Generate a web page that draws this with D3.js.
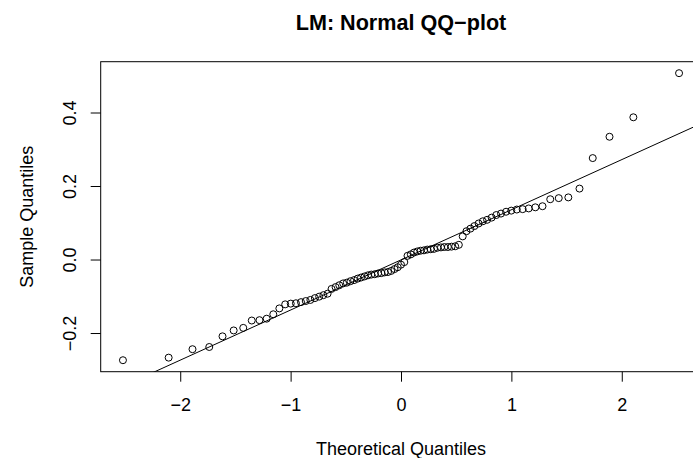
<!DOCTYPE html>
<html>
<head>
<meta charset="utf-8">
<script src="https://cdn.jsdelivr.net/npm/d3@7"></script>
<style>
  body { margin: 0; background: #fff; }
  svg text { font-family: "Liberation Sans", Arial, Helvetica, sans-serif; fill: #000; }
</style>
</head>
<body>
<svg id="chart"></svg>
<script>
// theoretical normal quantiles (x) and sorted sample residuals (y), n = 85
var theoQ = [
  -2.519, -2.105, -1.889, -1.737, -1.617, -1.516, -1.429, -1.352, -1.282, -1.217,
  -1.157, -1.102, -1.049, -0.999, -0.952, -0.906, -0.863, -0.821, -0.780, -0.741,
  -0.703, -0.665, -0.629, -0.593, -0.559, -0.524, -0.491, -0.458, -0.425, -0.393,
  -0.362, -0.330, -0.299, -0.269, -0.238, -0.208, -0.178, -0.148, -0.118, -0.089,
  -0.059, -0.030, 0.000, 0.030, 0.059, 0.089, 0.118, 0.148, 0.178, 0.208,
  0.238, 0.269, 0.299, 0.330, 0.362, 0.393, 0.425, 0.458, 0.491, 0.524,
  0.559, 0.593, 0.629, 0.665, 0.703, 0.741, 0.780, 0.821, 0.863, 0.906,
  0.952, 0.999, 1.049, 1.102, 1.157, 1.217, 1.282, 1.352, 1.429, 1.516,
  1.617, 1.737, 1.889, 2.105, 2.519
];
var sampleQ = [
  -0.274, -0.267, -0.244, -0.238, -0.209, -0.193, -0.186, -0.166, -0.165, -0.161,
  -0.149, -0.133, -0.122, -0.120, -0.119, -0.116, -0.113, -0.110, -0.105, -0.101,
  -0.097, -0.093, -0.080, -0.075, -0.070, -0.065, -0.063, -0.059, -0.056, -0.052,
  -0.049, -0.046, -0.043, -0.041, -0.040, -0.038, -0.037, -0.035, -0.034, -0.031,
  -0.026, -0.021, -0.014, -0.007, 0.010, 0.014, 0.019, 0.022, 0.024, 0.025,
  0.027, 0.028, 0.029, 0.032, 0.033, 0.034, 0.034, 0.035, 0.036, 0.040,
  0.063, 0.077, 0.084, 0.091, 0.098, 0.104, 0.108, 0.114, 0.121, 0.125,
  0.130, 0.133, 0.136, 0.137, 0.139, 0.142, 0.145, 0.164, 0.167, 0.169,
  0.193, 0.276, 0.334, 0.387, 0.507
];
var xTicks = [-2, -1, 0, 1, 2];
var yTicks = [-0.2, 0.0, 0.2, 0.4];
var normQuartiles = [-0.6745, 0.6745];

var W = 693, H = 458;
var plotL = 100.7, plotR = 701.3, plotT = 61.7, plotB = 371.7;
var fs = 18;

var svg = d3.select("#chart").attr("width", W).attr("height", H);

// R style 4% axis extension
function ext(a) {
  var lo = d3.min(a), hi = d3.max(a), d = (hi - lo) * 0.04;
  return [lo - d, hi + d];
}
var x = d3.scaleLinear().domain(ext(theoQ)).range([plotL, plotR]);
var y = d3.scaleLinear().domain(ext(sampleQ)).range([plotB, plotT]);

svg.append("clipPath").attr("id", "plotclip")
  .append("rect")
  .attr("x", plotL).attr("y", plotT)
  .attr("width", plotR - plotL).attr("height", plotB - plotT);

// qqline through the quartiles
var q1 = d3.quantile(sampleQ, 0.25), q3 = d3.quantile(sampleQ, 0.75);
var slope = (q3 - q1) / (normQuartiles[1] - normQuartiles[0]);
var icpt = q1 - slope * normQuartiles[0];
var xd = x.domain();
svg.append("line")
  .attr("clip-path", "url(#plotclip)")
  .attr("x1", x(xd[0])).attr("y1", y(icpt + slope * xd[0]))
  .attr("x2", x(xd[1])).attr("y2", y(icpt + slope * xd[1]))
  .attr("stroke", "#000").attr("stroke-width", 1);

// points
svg.append("g").selectAll("circle")
  .data(d3.zip(theoQ, sampleQ))
  .enter().append("circle")
  .attr("cx", function(d) { return x(d[0]); })
  .attr("cy", function(d) { return y(d[1]); })
  .attr("r", 3.5)
  .attr("fill", "none")
  .attr("stroke", "#000")
  .attr("stroke-width", 1);

// box
svg.append("rect")
  .attr("x", plotL).attr("y", plotT)
  .attr("width", plotR - plotL).attr("height", plotB - plotT)
  .attr("fill", "none").attr("stroke", "#000").attr("stroke-width", 1);

// axes
var xAxis = d3.axisBottom(x).tickValues(xTicks).tickSize(10).tickPadding(17)
  .tickFormat(d3.format("d"));
var gx = svg.append("g").attr("transform", "translate(0," + plotB + ")").call(xAxis);
gx.select(".domain").remove();
gx.selectAll("text").attr("font-size", fs).attr("font-family", null);

var yAxis = d3.axisLeft(y).tickValues(yTicks).tickSize(10)
  .tickFormat(d3.format(".1f"));
var gy = svg.append("g").attr("transform", "translate(" + plotL + ",0)").call(yAxis);
gy.select(".domain").remove();
gy.selectAll("text")
  .attr("font-size", fs).attr("font-family", null)
  .attr("x", null).attr("dy", null)
  .attr("text-anchor", "middle")
  .attr("transform", "translate(-25,0) rotate(-90)");

// titles
svg.append("text")
  .attr("x", (plotL + plotR) / 2).attr("y", 29.5)
  .attr("text-anchor", "middle")
  .attr("font-size", fs * 1.2).attr("font-weight", "bold")
  .text("LM: Normal QQ\u2212plot");

svg.append("text")
  .attr("x", (plotL + plotR) / 2).attr("y", 454.5)
  .attr("text-anchor", "middle")
  .attr("font-size", fs)
  .text("Theoretical Quantiles");

svg.append("text")
  .attr("transform", "translate(33," + (plotT + plotB) / 2 + ") rotate(-90)")
  .attr("text-anchor", "middle")
  .attr("font-size", fs)
  .text("Sample Quantiles");
</script>
</body>
</html>
